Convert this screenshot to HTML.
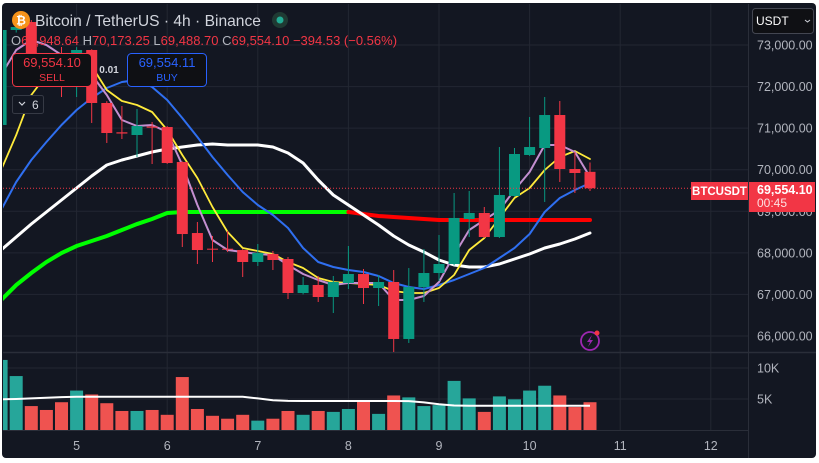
<!DOCTYPE html>
<html><head><meta charset="utf-8">
<style>
html,body{margin:0;padding:0;background:#fff;width:819px;height:463px;overflow:hidden;font-family:"Liberation Sans",sans-serif;}
svg{position:absolute;left:0;top:0;}
text{font-family:"Liberation Sans",sans-serif;}
</style></head>
<body>
<svg id="chart" width="819" height="463" viewBox="0 0 819 463">
  <rect x="2" y="3" width="814" height="455" rx="4" fill="#131722"/>
  <g id="grid"></g>
  <g id="vol"></g>
  <g id="lines"></g>
  <g id="candles"></g>
  <g id="axis"></g>
</svg>
<script>
const NS="http://www.w3.org/2000/svg";
const opens=[71076,73361,73553,72399,72500,72808,72880,71605,70900,70835,71040,71027,70185,68477,68100,68100,68068,67780,67972,67852,67034,67227,66938,67275,67491,67154,67299,65928,67178,67515,67732,68814,68959,68381,69368,70354,70522,71316,70017,69948.64];
const highs=[73450,73500,73600,72500,72952,72950,72900,71650,71533,71460,71148,71050,70200,68742,68405,68526,68090,68213,68044,67900,67419,67443,67443,68165,67611,67467,67587,67635,68093,68429,69440,69488,69103,70546,70522,71268,71749,71653,70426,70173.25];
const lows=[71000,73300,72300,72200,71749,71749,71124,70643,70739,70306,70137,70140,68141,67732,67780,68020,67419,67684,67587,66890,67000,66818,66553,67130,66770,66721,65615,65832,66818,67323,67700,68381,68357,68357,69350,70330,69224,69704,69440,69488.70];
const closes=[73361,73433,72399,72278,72400,72880,71605,70883,70870,71051,71010,70161,68453,68068,68080,68085,67780,67996,67828,67034,67227,66938,67299,67491,67154,67299,65928,67178,67515,67732,68839,68959,68381,69392,70378,70546,71316,70017,69921,69554.10];
const volumes=[11300,8700,3860,3230,4480,6360,5730,4320,3070,3070,3230,2450,8540,3390,2290,1820,2450,1510,1820,3070,2450,3070,2920,3390,4640,2600,5570,5260,3860,4010,7920,5100,2920,5420,4950,6360,7140,5570,3700,4480];
const volMA=[4950,5000,5100,5200,5300,5370,5370,5370,5370,5370,5370,5370,5370,5370,5370,5370,5370,5100,4800,4700,4680,4680,4680,4680,4680,4680,4680,4650,4450,4150,3950,3920,3920,3920,3920,3920,3920,3920,3920,3920];
const maYellow=[69992,70834,71797,72278,72591,72687,72495,71917,71652,71556,71388,70955,70353,69800,69102,68501,68116,68044,67972,67779,67635,67394,67298,67274,67250,67226,67082,67034,67034,67154,67467,68068,68357,68838,69319,69559,69992,70305,70450,70257];
const maPurple=[72278,72880,73120,73000,72760,72591,72278,71797,71195,71051,71075,70907,70113,69151,68309,68068,68020,67972,67948,67707,67491,67346,67226,67274,67274,67274,66865,66865,66961,67298,67948,68549,68790,69030,69511,69944,70594,70594,70425,69824];
const maBlue=[69030,69704,70233,70666,71075,71436,71725,71965,72110,72158,71990,71677,71243,70786,70305,69872,69463,69151,68910,68597,68116,67779,67659,67587,67539,67443,67274,67178,67130,67226,67346,67491,67635,67876,68116,68453,68982,69319,69511,69680];
const maWhite=[68068,68381,68693,68982,69271,69559,69848,70113,70233,70329,70425,70498,70546,70594,70618,70594,70594,70594,70546,70401,70161,69752,69391,69151,68910,68669,68405,68188,68020,67827,67707,67659,67659,67731,67851,67972,68116,68212,68333,68477];
const maLong=[66865,67226,67515,67779,67996,68164,68285,68405,68549,68693,68814,68958,68982,68982,68982,68982,68982,68982,68982,68982,68982,68982,68982,68982,68934,68886,68862,68838,68814,68790,68790,68790,68790,68790,68790,68790,68790,68790,68790,68790];
const priceTicks=[73000,72000,71000,70000,69000,68000,67000,66000];
const priceTickLabels=["73,000.00","72,000.00","71,000.00","70,000.00","69,000.00","68,000.00","67,000.00","66,000.00"];
const volTicks=[10000,5000];
const volTickLabels=["10K","5K"];
const dayIndex=[5,11,17,23,29,35,41,47];
const dayLabels=["5","6","7","8","9","10","11","12"];
const lastPrice=69554.10;

const N=opens.length;
const X=i=>590-(N-1-i)*15.1;
const Y=p=>45+(73000-p)*0.04157;
const VY=v=>430-v*0.0062;
function mk(tag,parent,attrs){const e=document.createElementNS(NS,tag);for(const k in attrs)e.setAttribute(k,attrs[k]);parent.appendChild(e);return e;}
const grid=document.getElementById('grid'),vol=document.getElementById('vol'),lines=document.getElementById('lines'),cg=document.getElementById('candles'),ax=document.getElementById('axis');
const svg=document.getElementById('chart');
const clip=mk('clipPath',svg,{id:'plotclip'});mk('rect',clip,{x:3,y:4,width:745,height:426});
cg.setAttribute('clip-path','url(#plotclip)');lines.setAttribute('clip-path','url(#plotclip)');vol.setAttribute('clip-path','url(#plotclip)');

priceTicks.forEach((p,k)=>{const l=mk('line',grid,{x1:3,x2:748,y1:Y(p),y2:Y(p),stroke:'#232732','stroke-width':1});

const t=mk('text',ax,{x:757,y:Y(p)+4.5,fill:'#b2b5be','font-size':12.5});t.textContent=priceTickLabels[k];
});
volTicks.forEach((v,k)=>{const l=mk('line',grid,{x1:3,x2:748,y1:VY(v),y2:VY(v),stroke:'#232732','stroke-width':1});

const t=mk('text',ax,{x:757,y:VY(v)+4.5,fill:'#b2b5be','font-size':12.5});t.textContent=volTickLabels[k];
});
dayIndex.forEach((d,k)=>{const x=X(d);const l=mk('line',grid,{x1:x,x2:x,y1:4,y2:430,stroke:'#232732','stroke-width':1});

const t=mk('text',ax,{x:x,y:450,fill:'#b2b5be','font-size':12.5,'text-anchor':'middle'});t.textContent=dayLabels[k];
});
const sep=mk('line',grid,{x1:3,x2:816,y1:352.5,y2:352.5,stroke:'#2a2e39','stroke-width':1.5});


volumes.forEach((v,i)=>{const up=closes[i]>=opens[i];
const r=mk('rect',vol,{x:X(i)-6.5,y:VY(v),width:13,height:430-VY(v),fill:up?'#26a69a':'#ef5350'});
});
const vm=mk('path',vol,{d:volMA.map((v,i)=>(i?'L':'M')+X(i)+','+VY(v)).join(''),fill:'none',stroke:'#ffffff','stroke-width':2});


function line(arr,color,w,name){const p=mk('path',lines,{d:arr.map((v,i)=>(i?'L':'M')+X(i).toFixed(1)+','+Y(v).toFixed(1)).join(''),fill:'none',stroke:color,'stroke-width':w,'stroke-linejoin':'round','stroke-linecap':'round'});
}
const pg=maLong.slice(0,24), pr=maLong.slice(23);
const gl=mk('path',lines,{d:pg.map((v,i)=>(i?'L':'M')+X(i)+','+Y(v)).join(''),fill:'none',stroke:'#00ff00','stroke-width':4,'stroke-linecap':'round'});

const rl=mk('path',lines,{d:pr.map((v,i)=>(i?'L':'M')+X(i+23)+','+Y(v)).join(''),fill:'none',stroke:'#ff0000','stroke-width':4,'stroke-linecap':'round'});

line(maWhite,'#ffffff',3,'ma-white');
line(maBlue,'#2f6ff0',2,'ma-blue');
line(maYellow,'#ffeb3b',1.8,'ma-yellow');
line(maPurple,'#c48fd0',2,'ma-purple');

for(let i=0;i<N;i++){const up=closes[i]>=opens[i];const c=up?'#089981':'#f23645';const x=X(i);
const w=mk('line',cg,{x1:x,x2:x,y1:Y(highs[i]),y2:Y(lows[i]),stroke:c,'stroke-width':1});

const t=Y(Math.max(opens[i],closes[i])),b=Y(Math.min(opens[i],closes[i]));
const r=mk('rect',cg,{x:x-5.5,y:t,width:11,height:Math.max(1,b-t),fill:c});
}

const lp=mk('line',ax,{x1:3,x2:691,y1:Y(lastPrice),y2:Y(lastPrice),stroke:'#f23645','stroke-width':1,'stroke-dasharray':'1,2'});

</script>
<svg width="819" height="463" style="pointer-events:none">
  <line x1="748.5" y1="4" x2="748.5" y2="458" stroke="#2a2e39"/>
  <line x1="3" y1="430.5" x2="748" y2="430.5" stroke="#2a2e39"/>
  <g>
    <circle cx="21" cy="20" r="9" fill="#f7931a"/>
    <text x="21" y="24.5" font-size="12" font-weight="bold" fill="#fff" text-anchor="middle">₿</text>
    <text x="35" y="26" font-size="15.6" fill="#d1d4dc">Bitcoin / TetherUS · 4h · Binance</text>
    <circle cx="280" cy="20" r="8" fill="#1f3a33"/><circle cx="280" cy="20" r="3.5" fill="#22ab94"/>
    <text x="11" y="45" font-size="13" fill="#f23645"><tspan fill="#b2b5be">O</tspan>69,948.64 <tspan fill="#b2b5be">H</tspan>70,173.25 <tspan fill="#b2b5be">L</tspan>69,488.70 <tspan fill="#b2b5be">C</tspan>69,554.10 −394.53 (−0.56%)</text>
  </g>
  <g>
    <rect x="12.5" y="53.5" width="79" height="33" rx="4" fill="#0f1014" stroke="#f23645"/>
    <text x="52" y="67" font-size="13" fill="#f23645" text-anchor="middle">69,554.10</text>
    <text x="52" y="81" font-size="10.5" fill="#f23645" text-anchor="middle">SELL</text>
  </g>
  <text x="109" y="73" font-size="10" font-weight="bold" fill="#d1d4dc" text-anchor="middle">0.01</text>
  <g>
    <rect x="127.5" y="53.5" width="79" height="33" rx="4" fill="#0f1014" stroke="#2962ff"/>
    <text x="167" y="67" font-size="13" fill="#2962ff" text-anchor="middle">69,554.11</text>
    <text x="167" y="81" font-size="10.5" fill="#2962ff" text-anchor="middle">BUY</text>
  </g>
  <g>
    <rect x="12.5" y="95.5" width="31" height="18" rx="2" fill="#131722" stroke="#363a45"/>
    <path d="M19 102 L22 105 L25 102" fill="none" stroke="#d1d4dc" stroke-width="1.2"/>
    <text x="32" y="109" font-size="12" fill="#d1d4dc">6</text>
  </g>
  <g>
    <rect x="752.5" y="8.5" width="61" height="25" rx="3" fill="#0f1014" stroke="#434651"/>
    <text x="756" y="25" font-size="12" fill="#fff">USDT</text>
    <path d="M805 20 L807.5 22 L810 20" fill="none" stroke="#d1d4dc"/>
  </g>
  <g>
    <rect x="691" y="182" width="57" height="18" fill="#f23645"/>
    <text x="719.5" y="195" font-size="11.5" font-weight="bold" fill="#fff" text-anchor="middle">BTCUSDT</text>
  </g>
  <g>
    <rect x="749" y="182" width="66" height="30" fill="#f23645"/>
    <text x="757" y="194" font-size="12.5" font-weight="bold" fill="#fff">69,554.10</text>
    <text x="757" y="207" font-size="12" fill="#fde0e2">00:45</text>
  </g>
  <g>
    <circle cx="590" cy="341" r="9" fill="#131722" stroke="#9c27b0" stroke-width="1.8"/>
    <path d="M592 335 L587 342 L590 342 L588 347 L593 340 L590 340 Z" fill="#9c27b0"/>
    <circle cx="597" cy="333" r="2.5" fill="#f23645"/>
  </g>
</svg>
</body></html>
